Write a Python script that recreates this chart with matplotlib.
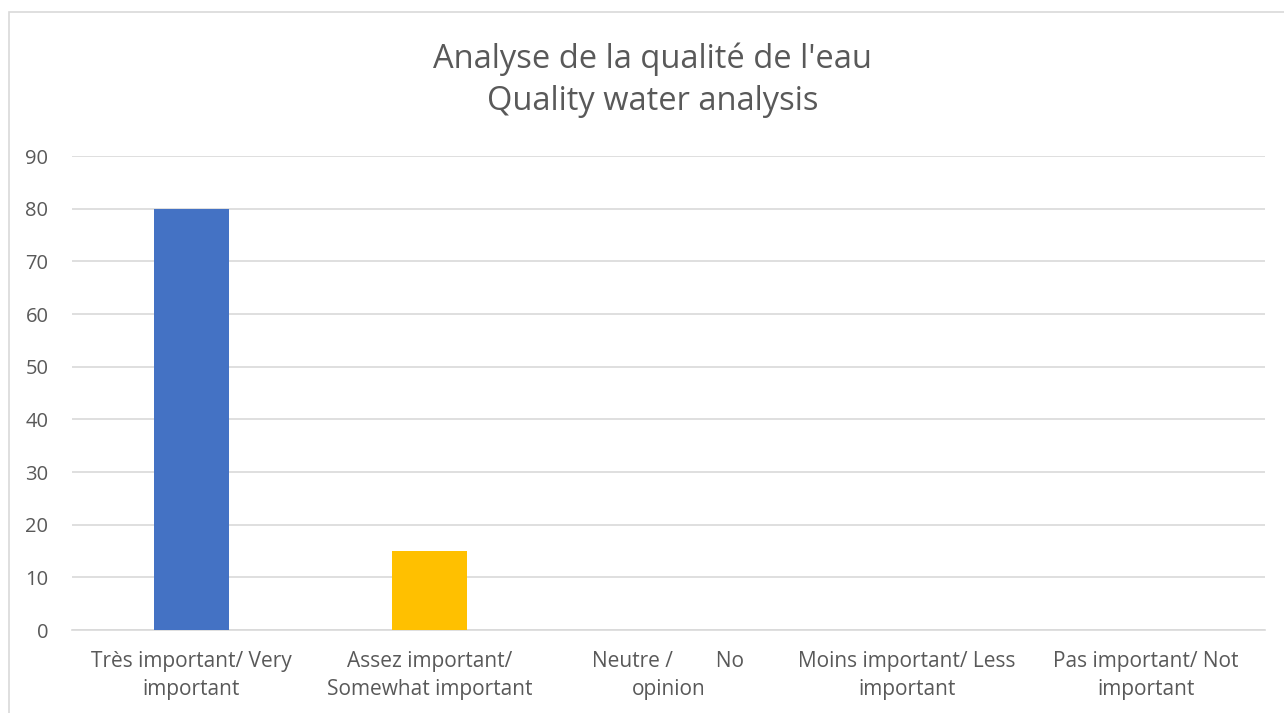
import matplotlib
matplotlib.use("Agg")
import matplotlib.pyplot as plt
from matplotlib.patches import Rectangle

categories = [
    "Très important/ Very\nimportant",
    "Assez important/\nSomewhat important",
    "Neutre /        No\nopinion",
    "Moins important/ Less\nimportant",
    "Pas important/ Not\nimportant",
]
values = [80, 15, 0, 0, 0]
colors = ["#4472C4", "#FFC000", "#A5A5A5", "#5B9BD5", "#70AD47"]
yticks = list(range(0, 100, 10))
title = "Analyse de la qualité de l'eau\nQuality water analysis"

plt.rcParams["font.family"] = ["Open Sans", "DejaVu Sans"]
TXT = "#595959"

fig = plt.figure(figsize=(12.84, 7.13), dpi=100)
# chart border
fig.patches.append(Rectangle((9 / 1284, -0.01), 1.02, 1 - 12 / 713 + 0.01,
                             transform=fig.transFigure, fill=False,
                             edgecolor="#D9D9D9", lw=1.2))

ax = fig.add_axes([72 / 1284, 83 / 713, (1265 - 72) / 1284, (630 - 156) / 713])
x = range(len(categories))
ax.bar(x, values, width=0.315, color=colors, zorder=3)
ax.set_xlim(-0.5, len(categories) - 0.5)
ax.set_ylim(0, 90)
ax.set_yticks(yticks)
ax.yaxis.grid(True, color="#D9D9D9", lw=1.2, zorder=0)
ax.set_xticks(list(x))
ax.set_xticklabels(categories, fontsize=15, color=TXT, linespacing=1.45)
ax.tick_params(axis="y", labelsize=14.5, labelcolor=TXT, length=0, pad=17)
ax.tick_params(axis="x", length=0, pad=15)
for s in ["top", "right", "left"]:
    ax.spines[s].set_visible(False)
ax.spines["bottom"].set_color("#D9D9D9")
ax.spines["bottom"].set_linewidth(1.2)

fig.text(0.508, 1 - 80 / 713, title, ha="center", va="center",
         fontsize=23.5, color=TXT, linespacing=1.38)

fig.savefig("out.png", dpi=100)
